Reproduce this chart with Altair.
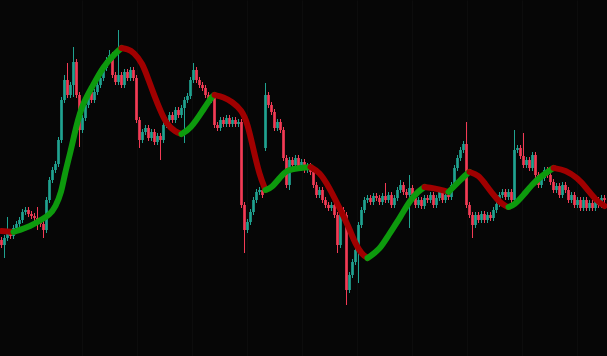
import altair as alt
import pandas as pd

# ---- candle data (price units, one candle per session) ----
first_open = 116
closes = [
    111, 118, 124, 120, 128, 132, 136, 144, 146, 142,
    140, 138, 136, 132, 126, 156, 176, 186, 192, 216,
    256, 276, 261, 271, 294, 261, 226, 238, 251, 264,
    256, 264, 271, 278, 288, 296, 301, 281, 274, 281,
    271, 284, 278, 286, 278, 236, 216, 224, 228, 218,
    224, 214, 220, 216, 231, 236, 241, 236, 246, 241,
    248, 256, 260, 276, 286, 276, 271, 268, 261, 256,
    259, 231, 228, 236, 232, 238, 232, 236, 232, 234,
    151, 126, 134, 144, 156, 164, 166, 161, 261, 251,
    244, 228, 234, 226, 198, 171, 196, 191, 198, 188,
    194, 186, 190, 184, 171, 161, 166, 156, 151, 148,
    151, 141, 111, 146, 141, 66, 81, 94, 106, 131,
    146, 156, 158, 154, 160, 158, 154, 160, 156, 161,
    151, 158, 166, 171, 164, 161, 168, 158, 151, 156,
    150, 158, 156, 161, 151, 158, 164, 156, 161, 159,
    171, 188, 198, 206, 212, 151, 141, 131, 141, 136,
    142, 136, 141, 138, 146, 152, 161, 164, 159, 164,
    156, 206, 208, 200, 191, 196, 188, 201, 181, 171,
    178, 186, 181, 174, 166, 170, 161, 171, 166, 156,
    161, 151, 156, 148, 156, 148, 153, 148, 156, 151,
    158, 156,
]
gap_opens = {88: 208}            # sessions that opened away from the prior close
long_upper_wicks = {2: 15, 12: 11, 21: 5, 22: 17, 24: 15, 36: 5, 39: 45, 64: 7,
                    88: 12, 128: 13, 133: 5, 136: 13, 155: 22, 171: 20, 174: 23}
long_lower_wicks = {1: 13, 12: 10, 14: 8, 24: 12, 26: 17, 46: 8, 53: 20, 61: 35,
                    81: 23, 96: 5, 112: 8, 115: 15, 119: 33, 136: 33, 157: 13}
usual_wick = 3

# ---- smoothed trend line (read at selected sessions) ----
line_idx = [0, 4, 10, 13, 16, 18, 20, 21, 23, 25, 27, 30, 34, 38, 40,
            42, 44, 47, 49, 51, 53, 55, 58, 60, 63, 67, 70, 71,
            74, 77, 80, 82, 84, 86, 88, 90, 93, 95, 99, 103,
            106, 109, 113, 116, 118, 120, 122, 126, 129, 133, 136, 139, 141,
            144, 148, 149, 151, 153, 155, 156, 159, 161, 164, 166, 168, 169,
            171, 174, 177, 180, 184, 188, 192, 195, 198, 201]
line_val = [125, 124, 130, 136, 141, 149, 164, 181, 204, 231, 252, 268, 290, 303, 308,
            307, 304, 293, 276, 260, 245, 232, 224, 222, 227, 245, 259, 261,
            259, 254, 246, 233, 206, 181, 166, 168, 179, 186, 188, 189,
            184, 170, 146, 127, 112, 102, 98, 106, 121, 139, 155, 165, 169,
            168, 165, 164, 170, 176, 182, 184, 181, 173, 161, 154, 150, 149,
            151, 161, 172, 180, 188, 186, 178, 168, 156, 150]

# ---- build tables ----
rows = []
prev_close = first_open
for i, c in enumerate(closes):
    o = gap_opens.get(i, prev_close)
    hi = max(o, c) + long_upper_wicks.get(i, usual_wick)
    lo = min(o, c) - long_lower_wicks.get(i, usual_wick)
    rows.append(dict(i=i, open=o, close=c, high=hi, low=lo,
                     dir="up" if c >= o else "down"))
    prev_close = c
candles = pd.DataFrame(rows)

seg_rows = []
seg = 0
prev_dir = None
for k in range(len(line_idx) - 1):
    d = "up" if line_val[k + 1] > line_val[k] else "down"
    if d != prev_dir:
        seg += 1
        seg_rows.append(dict(i=line_idx[k], v=line_val[k], seg=seg, dir=d))
    seg_rows.append(dict(i=line_idx[k + 1], v=line_val[k + 1], seg=seg, dir=d))
    prev_dir = d
trend = pd.DataFrame(seg_rows)

x_scale = alt.Scale(domain=[-0.5, 201.83], nice=False, zero=False)
y_scale = alt.Scale(domain=[0, 356], nice=False, zero=False)
grid_vals = [26.83, 45.17, 63.5, 81.83, 100.17, 118.5, 136.83, 155.17, 173.5, 191.83]
x_axis = alt.Axis(grid=True, gridColor="#0c0c0c", gridWidth=1, labels=False,
                  ticks=False, domain=False, title=None, values=grid_vals)

candle_colors = alt.Scale(domain=["up", "down"], range=["#20a290", "#f23b55"])

wicks = alt.Chart(candles).mark_rule(strokeWidth=1).encode(
    x=alt.X("i:Q", scale=x_scale, axis=x_axis),
    y=alt.Y("low:Q", scale=y_scale, axis=None),
    y2="high:Q",
    color=alt.Color("dir:N", scale=candle_colors, legend=None),
)

bodies = alt.Chart(candles).transform_calculate(
    xl="datum.i - 0.45", xr="datum.i + 0.45"
).mark_rect().encode(
    x=alt.X("xl:Q", scale=x_scale, axis=x_axis),
    x2="xr:Q",
    y=alt.Y("open:Q", scale=y_scale, axis=None),
    y2="close:Q",
    color=alt.Color("dir:N", scale=candle_colors, legend=None),
)

line = alt.Chart(trend).mark_line(
    strokeWidth=6, interpolate="basis", strokeCap="round"
).encode(
    x=alt.X("i:Q", scale=x_scale, axis=x_axis),
    y=alt.Y("v:Q", scale=y_scale, axis=None),
    detail="seg:N",
    color=alt.Color("dir:N", scale=alt.Scale(domain=["up", "down"],
                                              range=["#0d9a0d", "#a00000"]),
                    legend=None),
)

chart = alt.layer(wicks, bodies, line).resolve_scale(color="independent").properties(
    width=607, height=356, padding=0, autosize=alt.AutoSizeParams(type="none"),
    background="#060606",
).configure_view(stroke=None)

chart.save("out.html", embed_options={"renderer": "svg", "actions": False})
